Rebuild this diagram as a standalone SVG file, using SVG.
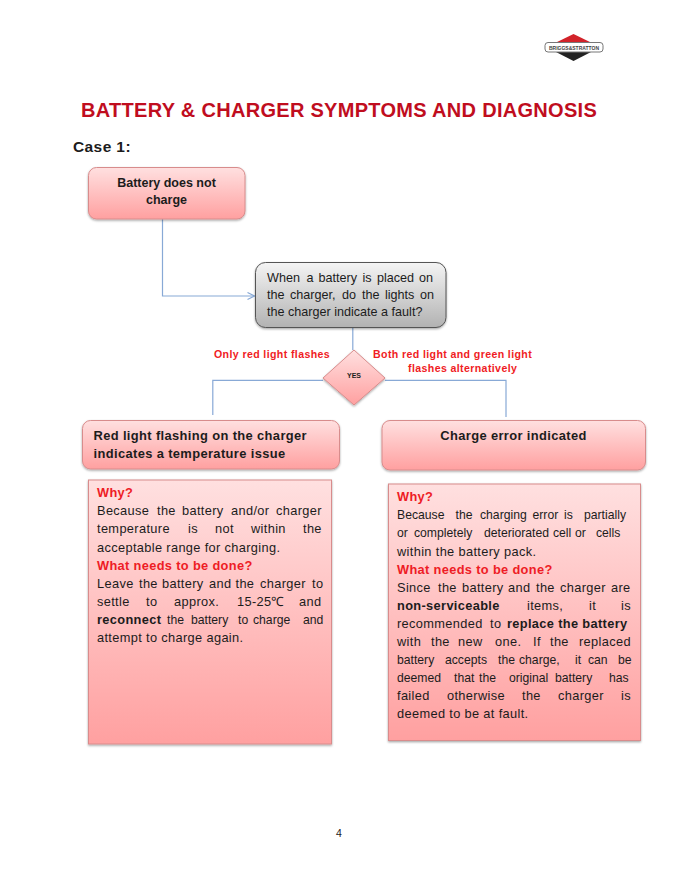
<svg xmlns="http://www.w3.org/2000/svg" width="679" height="885" viewBox="0 0 679 885">
<style>
text{font-family:"Liberation Sans",Arial,sans-serif;fill:#1c1c1c}
.b{font-weight:bold}
.body{font-size:12.8px;letter-spacing:.35px}
.tight{font-size:12.2px;letter-spacing:0}
.q{font-size:12.6px}
.red{fill:#ee1c25;font-weight:bold}
.lab{font-size:10.6px;fill:#f01c24;font-weight:bold;letter-spacing:.38px}
.head{font-size:12.9px;font-weight:bold;letter-spacing:.37px}
.box{fill:url(#pink);stroke:#d88c8c;stroke-width:1;filter:url(#sh)}
.conn{fill:none;stroke:#88a9d6;stroke-width:1.2}
</style>
<defs>
<linearGradient id="pink" x1="0" y1="0" x2="0" y2="1"><stop offset="0" stop-color="#ffe0e0"/><stop offset="1" stop-color="#ffa0a0"/></linearGradient>
<linearGradient id="grey" x1="0" y1="0" x2="0" y2="1"><stop offset="0" stop-color="#f4f4f4"/><stop offset="1" stop-color="#b2b2b2"/></linearGradient>
<filter id="sh" x="-5%" y="-10%" width="110%" height="125%"><feDropShadow dx="0" dy="1.2" stdDeviation="1.1" flood-color="#000" flood-opacity="0.35"/></filter>
<marker id="open" markerWidth="10" markerHeight="10" refX="8" refY="4" orient="auto" markerUnits="userSpaceOnUse"><path d="M1 0.5L8 4L1 7.5" fill="none" stroke="#88a9d6" stroke-width="1.2"/></marker>
</defs>
<rect width="679" height="885" fill="#fff"/>
<g id="logo">
<path d="M573.500 34L592 43H555Z" fill="#d2232a"/>
<path d="M573.500 61L592 51.500H555Z" fill="#222"/>
<rect x="545" y="42.500" width="58" height="9.500" rx="3" fill="#fff" stroke="#777" stroke-width="1"/>
<text x="574" y="49.500" text-anchor="middle" class="b" font-size="5" textLength="50" lengthAdjust="spacingAndGlyphs" style="fill:#444">BRIGGS&amp;STRATTON</text>
</g>
<text id="title" x="81" y="116.800" class="b" font-size="20" letter-spacing=".3" style="fill:#c00d1e">BATTERY &amp; CHARGER SYMPTOMS AND DIAGNOSIS</text>
<text id="case" x="73" y="152" class="b" font-size="15.500" letter-spacing=".4">Case 1:</text>
<g id="connectors">
<path class="conn" d="M162.500 219V296H254.500" marker-end="url(#open)"/>
<path class="conn" d="M352.800 327V350"/>
<path class="conn" d="M323 380.300H212.800V415"/>
<path class="conn" d="M385 380.300H506V417"/>
</g>
<g id="n-start">
<rect class="box" x="88.500" y="167.500" width="156.500" height="51.500" rx="8"/>
<text x="166.500" y="186.500" text-anchor="middle" class="b" font-size="12.500">Battery does not</text>
<text x="166.500" y="203.500" text-anchor="middle" class="b" font-size="12.500">charge</text>
</g>
<g id="n-question">
<rect x="255.500" y="262.500" width="190.500" height="65" rx="10" fill="url(#grey)" stroke="#555" stroke-width="1" filter="url(#sh)"/>
<text class="q"><tspan x="267" y="282">When</tspan><tspan x="306.500">a</tspan><tspan x="318.500">battery</tspan><tspan x="362.500">is</tspan><tspan x="377">placed</tspan><tspan x="419">on</tspan></text>
<text class="q"><tspan x="267" y="299">the</tspan><tspan x="290">charger,</tspan><tspan x="342">do</tspan><tspan x="362">the</tspan><tspan x="385">lights</tspan><tspan x="420">on</tspan></text>
<text class="q" x="267" y="315.500">the charger indicate a fault?</text>
</g>
<g id="n-yes">
<path class="box" d="M354 350L385 378L354 405L323 378Z"/>
<text x="354" y="377.500" text-anchor="middle" class="b" font-size="7">YES</text>
</g>
<text class="lab" x="214" y="357.500">Only red light flashes</text>
<text class="lab" x="373" y="357.500">Both red light and green light</text>
<text class="lab" x="408" y="372">flashes alternatively</text>
<g id="n-temp">
<rect class="box" x="82.500" y="420.500" width="257" height="48.500" rx="8"/>
<text class="head" x="93.500" y="439.700">Red light flashing on the charger</text>
<text class="head" x="93.500" y="457.700">indicates a temperature issue</text>
</g>
<g id="n-error">
<rect class="box" x="382" y="420.500" width="263.500" height="49.500" rx="8"/>
<text class="head" x="513.500" y="439.800" text-anchor="middle">Charge error indicated</text>
</g>
<g id="n-why-left">
<rect class="box" x="88.500" y="480" width="243" height="264"/>
<g transform="translate(0,-.7)">
<text class="body red" x="97" y="498">Why?</text>
<text class="body"><tspan x="97" y="516">Because</tspan><tspan x="157">the</tspan><tspan x="182">battery</tspan><tspan x="231">and/or</tspan><tspan x="276">charger</tspan></text>
<text class="body"><tspan x="97" y="534">temperature</tspan><tspan x="188">is</tspan><tspan x="215">not</tspan><tspan x="251">within</tspan><tspan x="303">the</tspan></text>
<text class="body" x="97" y="552.500">acceptable range for charging.</text>
<text class="body red" x="97" y="570.500">What needs to be done?</text>
<text class="body"><tspan x="97" y="589">Leave</tspan><tspan x="139">the</tspan><tspan x="162">battery</tspan><tspan x="209">and</tspan><tspan x="235.500">the</tspan><tspan x="260">charger</tspan><tspan x="312">to</tspan></text>
<text class="body"><tspan x="97" y="607">settle</tspan><tspan x="146">to</tspan><tspan x="174">approx.</tspan><tspan x="237">15-25℃</tspan><tspan x="299">and</tspan></text>
<text class="body"><tspan x="97" y="625" class="b">reconnect</tspan><tspan x="167" class="tight">the</tspan><tspan x="191" class="tight">battery</tspan><tspan x="238" class="tight">to</tspan><tspan x="253" class="tight">charge</tspan><tspan x="303" class="tight">and</tspan></text>
<text class="body" x="97" y="642.500">attempt to charge again.</text>
</g>
</g>
<g id="n-why-right">
<rect class="box" x="388.500" y="484" width="252" height="256.500"/>
<g transform="translate(0,-.7)">
<text class="body red" x="397" y="501.500">Why?</text>
<text class="body tight"><tspan x="397" y="520">Because</tspan><tspan x="455.500">the</tspan><tspan x="480">charging</tspan><tspan x="532.500">error</tspan><tspan x="564">is</tspan><tspan x="584">partially</tspan></text>
<text class="body tight"><tspan x="397" y="538">or</tspan><tspan x="414">completely</tspan><tspan x="484">deteriorated</tspan><tspan x="553">cell</tspan><tspan x="575">or</tspan><tspan x="596">cells</tspan></text>
<text class="body" x="397" y="556.500">within the battery pack.</text>
<text class="body red" x="397" y="574.500">What needs to be done?</text>
<text class="body"><tspan x="397" y="592.500">Since</tspan><tspan x="438">the</tspan><tspan x="462">battery</tspan><tspan x="508">and</tspan><tspan x="536">the</tspan><tspan x="560">charger</tspan><tspan x="611">are</tspan></text>
<text class="body"><tspan x="397" y="610.500" class="b">non-serviceable</tspan><tspan x="527">items,</tspan><tspan x="589">it</tspan><tspan x="621">is</tspan></text>
<text class="body"><tspan x="397" y="628.500">recommended</tspan><tspan x="490">to</tspan><tspan x="507" class="b">replace the battery</tspan></text>
<text class="body"><tspan x="397" y="646.500">with</tspan><tspan x="431">the</tspan><tspan x="458">new</tspan><tspan x="495">one.</tspan><tspan x="533">If</tspan><tspan x="550">the</tspan><tspan x="579">replaced</tspan></text>
<text class="body tight"><tspan x="397" y="664.500">battery</tspan><tspan x="445">accepts</tspan><tspan x="498">the</tspan><tspan x="519">charge,</tspan><tspan x="575">it</tspan><tspan x="588">can</tspan><tspan x="618">be</tspan></text>
<text class="body tight"><tspan x="397" y="682.500">deemed</tspan><tspan x="454">that</tspan><tspan x="479">the</tspan><tspan x="509">original</tspan><tspan x="555">battery</tspan><tspan x="609">has</tspan></text>
<text class="body"><tspan x="397" y="700.500">failed</tspan><tspan x="447">otherwise</tspan><tspan x="522">the</tspan><tspan x="558">charger</tspan><tspan x="621">is</tspan></text>
<text class="body" x="397" y="718.500">deemed to be at fault.</text>
</g>
</g>
<text id="page" x="339" y="837" text-anchor="middle" font-size="10.500">4</text>
</svg>
